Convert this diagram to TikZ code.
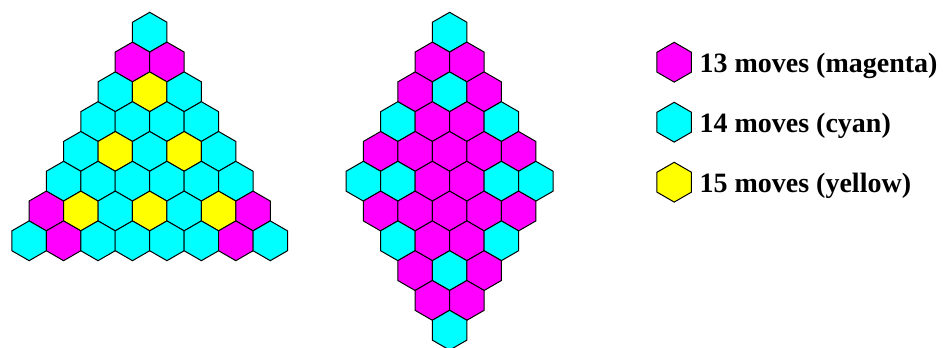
\documentclass[tikz,border=0pt]{standalone}
\usepackage{fontspec}
\setmainfont{Liberation Serif}
\usetikzlibrary{shapes.geometric}
\definecolor{hexM}{RGB}{255,0,255}
\definecolor{hexC}{RGB}{0,255,255}
\definecolor{hexY}{RGB}{255,255,0}
\tikzset{
  hexcell/.style={regular polygon, regular polygon sides=6, shape border rotate=30,
    minimum size=29.85pt, inner sep=0pt, outer sep=0pt, draw=black, line width=0.75pt},
  legtext/.style={anchor=base west, inner sep=0pt, font=\fontsize{21}{25}\selectfont\bfseries}
}
\begin{document}
\begin{tikzpicture}[x=0.75pt,y=-0.75pt]
\useasboundingbox (0,0) rectangle (944,348);
% triangle
\foreach \r/\cs in {1/{C},2/{M,M},3/{C,Y,C},4/{C,C,C,C},5/{C,Y,C,Y,C},6/{C,C,C,C,C,C},7/{M,Y,C,Y,C,Y,M},8/{C,M,C,C,C,C,M,C}}{
  \foreach \c [count=\i] in \cs {
    \node[hexcell, fill=hex\c] (t-\r-\i) at ({149.7+(\i-(\r+1)/2)*34.45},{32.2+(\r-1)*29.8}) {};
  }
}
% diamond
\foreach \r/\n/\cs in {1/1/{C},2/2/{M,M},3/3/{M,C,M},4/4/{C,M,M,C},5/5/{M,M,M,M,M},6/6/{C,C,M,M,C,C},7/5/{M,M,M,M,M},8/4/{C,M,M,C},9/3/{M,C,M},10/2/{M,M},11/1/{C}}{
  \foreach \c [count=\i] in \cs {
    \node[hexcell, fill=hex\c] (d-\r-\i) at ({449.6+(\i-(\n+1)/2)*34.5},{32.2+(\r-1)*29.8}) {};
  }
}
% legend
\node[hexcell, fill=hexM] (lm) at (674.2,62.2) {};
\node[hexcell, fill=hexC] (lc) at (674.2,122.2) {};
\node[hexcell, fill=hexY] (ly) at (674.2,182.2) {};
\node[legtext] (tm) at (699.3,72.7) {13 moves (magenta)};
\node[legtext] (tc) at (699.3,132.7) {14 moves (cyan)};
\node[legtext] (ty) at (699.3,192.7) {15 moves (yellow)};
\end{tikzpicture}
\end{document}
